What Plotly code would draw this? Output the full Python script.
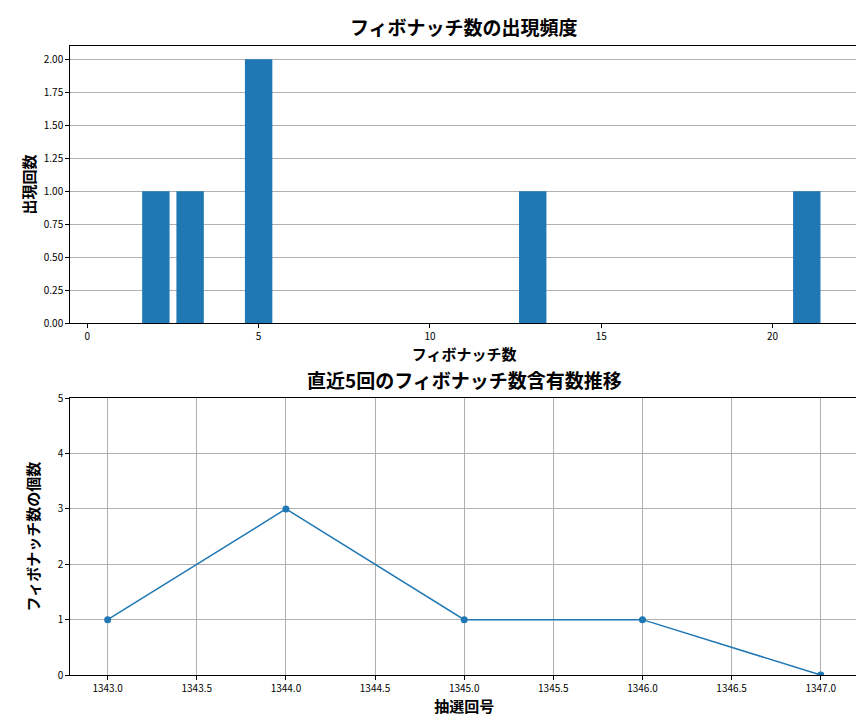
import plotly.graph_objects as go
from plotly.subplots import make_subplots

fib_numbers = [2, 3, 5, 13, 21]
fib_counts = [1, 1, 2, 1, 1]

draws = [1343, 1344, 1345, 1346, 1347]
fib_per_draw = [1, 3, 1, 1, 0]

FONT = "Noto Sans CJK JP"
BLUE = "#1f77b4"

fig = make_subplots(rows=2, cols=1)
fig.add_trace(go.Bar(x=fib_numbers, y=fib_counts, width=0.8, marker_color=BLUE,
                     marker_line_width=0), row=1, col=1)
fig.add_trace(go.Scatter(x=draws, y=fib_per_draw, mode="lines+markers",
                         line=dict(color=BLUE, width=1.5),
                         marker=dict(color=BLUE, size=7)), row=2, col=1)

axis_common = dict(showline=True, linecolor="black", linewidth=1, mirror=True,
                   ticks="outside", ticklen=4, tickcolor="black", automargin=False,
                   tickfont=dict(size=10, family=FONT, color="black"),
                   zeroline=False, gridcolor="#b0b0b0", gridwidth=0.8)

fig.update_layout(
    width=864, height=720, margin=dict(l=0, r=0, t=0, b=0),
    plot_bgcolor="white", paper_bgcolor="white", showlegend=False,
    font=dict(family=FONT, color="black"),
    xaxis=dict(domain=[0.072, 0.984], range=[-0.5, 22.5], tickvals=[0, 5, 10, 15, 20],
               showgrid=False, title=dict(text="<b>フィボナッチ数</b>", font=dict(size=15), standoff=4),
               **axis_common),
    yaxis=dict(domain=[0.5625, 0.947], range=[0, 2.1], dtick=0.25, tickformat=".2f",
               showgrid=True, title=dict(text="<b>出現回数</b>", font=dict(size=15), standoff=4),
               **axis_common),
    xaxis2=dict(domain=[0.072, 0.984], range=[1342.79, 1347.21], dtick=0.5, tickformat=".1f",
                showgrid=True, title=dict(text="<b>抽選回号</b>", font=dict(size=15), standoff=4),
                **axis_common),
    yaxis2=dict(domain=[0.0736, 0.458], range=[0, 5], dtick=1,
                showgrid=True, title=dict(text="<b>フィボナッチ数の個数</b>", font=dict(size=15), standoff=14),
                **axis_common),
    annotations=[
        dict(text="<b>フィボナッチ数の出現頻度</b>", x=0.528, y=0.953, xref="paper", yref="paper",
             xanchor="center", yanchor="bottom", showarrow=False, font=dict(size=19)),
        dict(text="<b>直近5回のフィボナッチ数含有数推移</b>", x=0.528, y=0.462, xref="paper", yref="paper",
             xanchor="center", yanchor="bottom", showarrow=False, font=dict(size=19)),
    ],
)

fig.write_html("out.html")
